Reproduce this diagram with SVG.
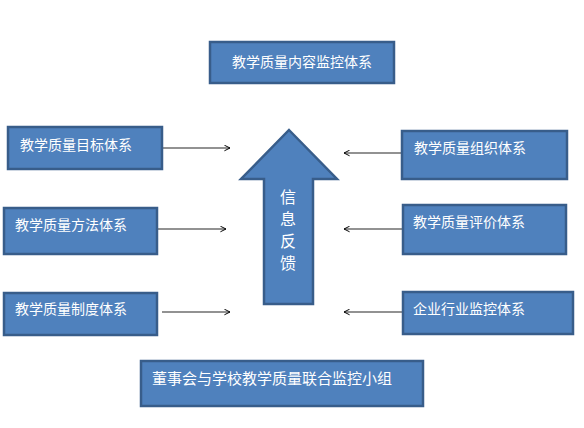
<svg xmlns="http://www.w3.org/2000/svg" width="584" height="428" viewBox="0 0 584 428">
<style>
.box{fill:#4F81BD;stroke:#385D8A;stroke-width:2.5}
.t{font-family:"Noto Sans CJK SC","Liberation Sans",sans-serif;font-size:14px;fill:#FFFFFF}
.c{fill:none;stroke:#6E6E6E;stroke-width:1.5;marker-end:url(#ah)}
</style>
<defs>
<marker id="ah" viewBox="0 0 10 10" refX="9" refY="5" markerWidth="7" markerHeight="7" orient="auto" markerUnits="userSpaceOnUse">
<path d="M1,1 L9,5 L1,9" fill="none" stroke="#000" stroke-width="1.4"/>
</marker>
</defs>
<rect width="584" height="428" fill="#FFFFFF"/>
<g id="connectors">
<line class="c" x1="157" y1="148" x2="230" y2="148"/>
<line class="c" x1="157" y1="229" x2="226" y2="229"/>
<line class="c" x1="162" y1="312" x2="230" y2="312"/>
<line class="c" x1="402" y1="153" x2="344" y2="153"/>
<line class="c" x1="403" y1="229" x2="344" y2="229"/>
<line class="c" x1="403" y1="312" x2="344" y2="312"/>
</g>
<g id="n-top">
<rect class="box" x="210" y="42" width="184" height="41"/>
<text class="t" x="302" y="67" text-anchor="middle">教学质量内容监控体系</text>
</g>
<g id="n-goal">
<rect class="box" x="8" y="127" width="154" height="42"/>
<text class="t" x="20" y="150">教学质量目标体系</text>
</g>
<g id="n-method">
<rect class="box" x="4" y="208" width="153" height="46"/>
<text class="t" x="15" y="230">教学质量方法体系</text>
</g>
<g id="n-system">
<rect class="box" x="4" y="293" width="153" height="42"/>
<text class="t" x="15" y="314">教学质量制度体系</text>
</g>
<g id="n-org">
<rect class="box" x="402" y="131" width="165" height="48"/>
<text class="t" x="414" y="153">教学质量组织体系</text>
</g>
<g id="n-eval">
<rect class="box" x="403" y="205" width="163" height="49"/>
<text class="t" x="413" y="227">教学质量评价体系</text>
</g>
<g id="n-industry">
<rect class="box" x="403" y="292" width="170" height="42"/>
<text class="t" x="413" y="314">企业行业监控体系</text>
</g>
<g id="n-bottom">
<rect class="box" x="141" y="361" width="282" height="45"/>
<text class="t" x="152" y="384" style="font-size:15px">董事会与学校教学质量联合监控小组</text>
</g>
<g id="n-arrow">
<polygon class="box" points="289,130 337,179 313,179 313,304 264,304 264,179 241,179"/>
<text class="t" x="288" y="203" text-anchor="middle" style="font-size:16px">信</text>
<text class="t" x="288" y="225" text-anchor="middle" style="font-size:16px">息</text>
<text class="t" x="288" y="247" text-anchor="middle" style="font-size:16px">反</text>
<text class="t" x="288" y="269" text-anchor="middle" style="font-size:16px">馈</text>
</g>
</svg>
